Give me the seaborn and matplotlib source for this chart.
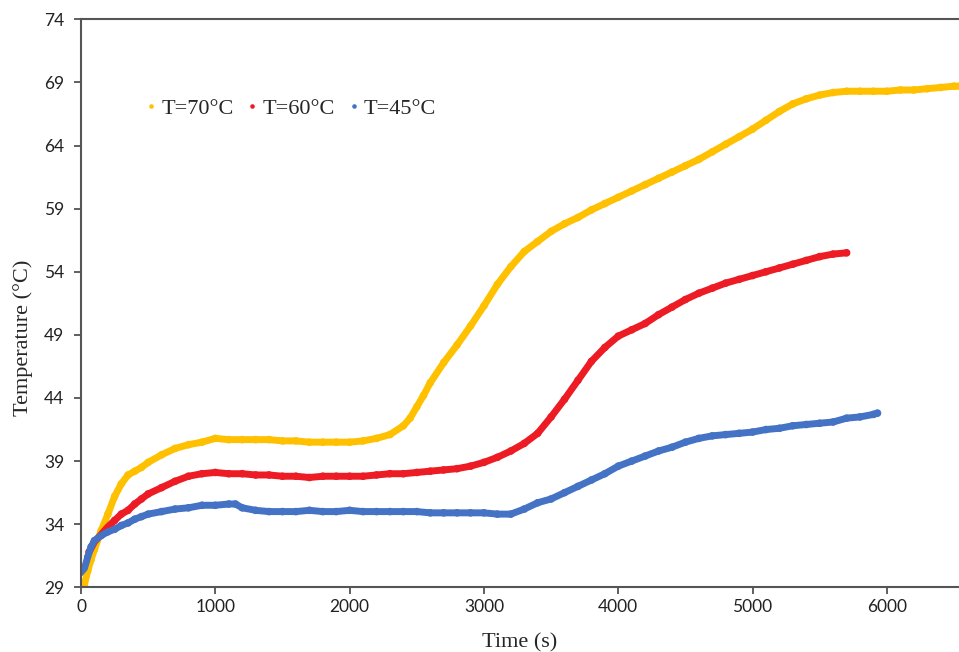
import matplotlib
matplotlib.use("Agg")
import matplotlib.pyplot as plt
import seaborn as sns
import pandas as pd

# Valores (tempo em s, temperatura em °C)
t_70 = [25, 50, 75, 100, 150, 200, 250, 300, 350, 400, 450, 500, 600, 700, 800, 900,
        1000, 1100, 1200, 1300, 1400, 1500, 1600, 1700, 1800, 1900, 2000, 2100, 2200,
        2300, 2400, 2450, 2500, 2550, 2600, 2700, 2800, 2900, 3000, 3100, 3200, 3300,
        3400, 3500, 3600, 3700, 3800, 3900, 4000, 4100, 4200, 4300, 4400, 4500, 4600,
        4700, 4800, 4900, 5000, 5100, 5200, 5300, 5400, 5500, 5600, 5700, 5800, 5900,
        6000, 6100, 6200, 6300, 6400, 6500, 6540]
T_70 = [29.2, 30.3, 31.2, 32.0, 33.5, 34.8, 36.2, 37.2, 37.9, 38.2, 38.5, 38.9, 39.5,
        40.0, 40.3, 40.5, 40.8, 40.7, 40.7, 40.7, 40.7, 40.6, 40.6, 40.5, 40.5, 40.5,
        40.5, 40.6, 40.8, 41.1, 41.8, 42.4, 43.3, 44.2, 45.2, 46.8, 48.2, 49.7, 51.3,
        53.0, 54.4, 55.6, 56.4, 57.2, 57.8, 58.3, 58.9, 59.4, 59.9, 60.4, 60.9, 61.4,
        61.9, 62.4, 62.9, 63.5, 64.1, 64.7, 65.3, 66.0, 66.7, 67.3, 67.7, 68.0, 68.2,
        68.3, 68.3, 68.3, 68.3, 68.4, 68.4, 68.5, 68.6, 68.7, 68.7]

t_60 = [60, 100, 150, 200, 250, 300, 350, 400, 450, 500, 600, 700, 800, 900, 1000,
        1100, 1200, 1300, 1400, 1500, 1600, 1700, 1800, 1900, 2000, 2100, 2200, 2300,
        2400, 2500, 2600, 2700, 2800, 2900, 3000, 3100, 3200, 3300, 3400, 3500, 3600,
        3700, 3800, 3900, 4000, 4100, 4200, 4300, 4400, 4500, 4600, 4700, 4800, 4900,
        5000, 5100, 5200, 5300, 5400, 5500, 5600, 5700]
T_60 = [31.8, 32.6, 33.2, 33.8, 34.3, 34.8, 35.1, 35.6, 36.0, 36.4, 36.9, 37.4, 37.8,
        38.0, 38.1, 38.0, 38.0, 37.9, 37.9, 37.8, 37.8, 37.7, 37.8, 37.8, 37.8, 37.8,
        37.9, 38.0, 38.0, 38.1, 38.2, 38.3, 38.4, 38.6, 38.9, 39.3, 39.8, 40.4, 41.2,
        42.5, 43.9, 45.4, 46.9, 48.0, 48.9, 49.4, 49.9, 50.6, 51.2, 51.8, 52.3, 52.7,
        53.1, 53.4, 53.7, 54.0, 54.3, 54.6, 54.9, 55.2, 55.4, 55.5]

t_45 = [0, 25, 50, 75, 100, 150, 200, 250, 300, 350, 400, 450, 500, 600, 700, 800, 900,
        1000, 1100, 1150, 1200, 1300, 1400, 1500, 1600, 1700, 1800, 1900, 2000, 2100,
        2200, 2300, 2400, 2500, 2600, 2700, 2800, 2900, 3000, 3100, 3200, 3300, 3400,
        3500, 3600, 3700, 3800, 3900, 4000, 4100, 4200, 4300, 4400, 4500, 4600, 4700,
        4800, 4900, 5000, 5100, 5200, 5300, 5400, 5500, 5600, 5700, 5800, 5900, 5930]
T_45 = [30.2, 30.5, 31.4, 32.2, 32.7, 33.1, 33.4, 33.6, 33.9, 34.1, 34.4, 34.6, 34.8,
        35.0, 35.2, 35.3, 35.5, 35.5, 35.6, 35.6, 35.3, 35.1, 35.0, 35.0, 35.0, 35.1,
        35.0, 35.0, 35.1, 35.0, 35.0, 35.0, 35.0, 35.0, 34.9, 34.9, 34.9, 34.9, 34.9,
        34.8, 34.8, 35.2, 35.7, 36.0, 36.5, 37.0, 37.5, 38.0, 38.6, 39.0, 39.4, 39.8,
        40.1, 40.5, 40.8, 41.0, 41.1, 41.2, 41.3, 41.5, 41.6, 41.8, 41.9, 42.0, 42.1,
        42.4, 42.5, 42.7, 42.8]

series = ["T=70°C", "T=60°C", "T=45°C"]
cores = ["#FFC000", "#ED1C24", "#4472C4"]
x_ticks = [0, 1000, 2000, 3000, 4000, 5000, 6000]
y_ticks = [29, 34, 39, 44, 49, 54, 59, 64, 69, 74]

df = pd.concat([
    pd.DataFrame({"Time": t_70, "Temp": T_70, "Serie": series[0]}),
    pd.DataFrame({"Time": t_60, "Temp": T_60, "Serie": series[1]}),
    pd.DataFrame({"Time": t_45, "Temp": T_45, "Serie": series[2]}),
])
paleta = dict(zip(series, cores))

sns.set_style("white")
fig = plt.figure(figsize=(9.59, 6.52), dpi=100)
ax = fig.add_axes([0.0845, 0.0992, 0.9155, 0.8712])

# Linha grossa + pontos para imitar a série densa de marcadores
sns.lineplot(data=df, x="Time", y="Temp", hue="Serie", palette=paleta, lw=5,
             legend=False, ax=ax, sort=False, estimator=None)
sns.scatterplot(data=df, x="Time", y="Temp", hue="Serie", palette=paleta, s=30,
                linewidth=0, ax=ax)

ax.set_xlim(0, 6537)
ax.set_ylim(29, 74)
ax.set_xticks(x_ticks)
ax.set_yticks(y_ticks)
ax.tick_params(axis="both", direction="out", length=5, width=1.2, color="#444444",
               labelsize=12.5, labelcolor="#222222", left=True, bottom=True)
ax.tick_params(axis="y", pad=7)
for lab in ax.get_xticklabels() + ax.get_yticklabels():
    lab.set_family("Lato")

for lado in ["left", "bottom", "top"]:
    ax.spines[lado].set_color("#555555")
    ax.spines[lado].set_linewidth(1.5)
ax.spines["right"].set_visible(False)

ax.set_xlabel("Time (s)", family="Liberation Serif", fontsize=16, labelpad=13)
ax.set_ylabel("Temperature (°C)", family="Liberation Serif", fontsize=16)
ax.yaxis.set_label_coords(-0.0547, 0.439)

leg = ax.legend(loc="center left", bbox_to_anchor=(0.047, 0.843), ncol=3, frameon=False,
                handlelength=0.8, handletextpad=0.05, columnspacing=0.45, markerscale=0.6,
                prop={"family": "Liberation Serif", "size": 16})

plt.savefig("out.png", dpi=100)
plt.close()
